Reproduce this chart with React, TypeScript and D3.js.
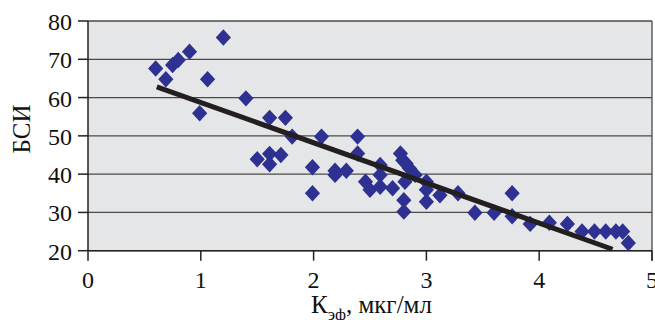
import React from "react";
import * as d3 from "d3";

const xValues = [
  0.60, 0.69, 0.75, 0.80, 0.90, 0.99, 1.06, 1.20, 1.40, 1.50,
  1.61, 1.61, 1.61, 1.71, 1.75, 1.81, 1.99, 1.99, 2.07, 2.19,
  2.19, 2.29, 2.39, 2.39, 2.46, 2.50, 2.59, 2.59, 2.59, 2.70,
  2.77, 2.79, 2.82, 2.85, 2.81, 2.90, 2.80, 2.80, 3.00, 3.00,
  3.00, 3.12, 3.28, 3.43, 3.60, 3.76, 3.76, 3.92, 4.09, 4.25,
  4.38, 4.49, 4.59, 4.68, 4.74, 4.79,
];
const yValues = [
  67.6, 64.8, 68.5, 69.8, 72.0, 55.9, 64.8, 75.7, 59.8, 43.9,
  45.3, 42.6, 54.7, 45.0, 54.7, 49.8, 41.8, 35.0, 49.8, 40.9,
  39.8, 40.9, 49.8, 45.4, 38.0, 35.9, 42.4, 39.8, 36.7, 36.3,
  45.4, 43.6, 42.8, 41.5, 38.0, 39.8, 33.2, 30.2, 38.0, 35.9,
  32.8, 34.5, 35.0, 29.9, 29.9, 35.0, 29.0, 27.0, 27.3, 27.0,
  25.0, 25.0, 25.0, 25.0, 25.0, 22.0,
];
const xTicks = [0, 1, 2, 3, 4, 5];
const yTicks = [20, 30, 40, 50, 60, 70, 80];
const trendRange = [0.61, 4.65];
const trendSlope = -10.5;
const trendIntercept = 69.2;
const yTitle = "БСИ";
const xTitleMain = "К";
const xTitleSub = "эф";
const xTitleRest = ", мкг/мл";

const W = 655;
const H = 320;
const left = 88;
const right = 652;
const top = 21;
const bottom = 250.7;

export default function App() {
  const x = d3.scaleLinear().domain([0, 5]).range([left, right]);
  const y = d3.scaleLinear().domain([20, 80]).range([bottom, top]);
  const font = "'Liberation Serif', 'Times New Roman', serif";
  const pts = xValues.map((v, i) => [v, yValues[i]] as [number, number]);
  const hw = 7.6;
  const hh = 8.2;
  const diamond = `M0,${-hh}L${hw},0L0,${hh}L${-hw},0Z`;
  const line = d3
    .line<number>()
    .x((d) => x(d))
    .y((d) => y(trendSlope * d + trendIntercept));

  return (
    <svg
      width={W}
      height={H}
      style={{ position: "absolute", left: 0, top: 0, background: "#fff" }}
      fontFamily={font}
    >
      <rect x={left} y={top} width={right - left} height={bottom - top} fill="#e5e6e8" />
      {yTicks.map((t) => (
        <line key={"g" + t} x1={left} x2={right} y1={y(t)} y2={y(t)} stroke="#4a4a4a" strokeWidth={1.3} />
      ))}
      <line x1={right} x2={right} y1={top} y2={bottom + 10} stroke="#4a4a4a" strokeWidth={1.3} />
      {yTicks.map((t) => (
        <g key={"y" + t}>
          <line x1={left - 10} x2={left} y1={y(t)} y2={y(t)} stroke="#222" strokeWidth={1.5} />
          <text x={left - 16} y={y(t) + 9} fontSize={24} textAnchor="end" fill="#111">
            {t}
          </text>
        </g>
      ))}
      {xTicks.map((t) => (
        <g key={"x" + t}>
          <line x1={x(t)} x2={x(t)} y1={bottom} y2={bottom + 10} stroke="#222" strokeWidth={1.5} />
          <text x={x(t)} y={288} fontSize={24} textAnchor="middle" fill="#111">
            {t}
          </text>
        </g>
      ))}
      <line x1={left} x2={left} y1={top} y2={bottom} stroke="#222" strokeWidth={1.5} />
      <line x1={left} x2={right} y1={bottom} y2={bottom} stroke="#222" strokeWidth={1.5} />
      {pts.map(([a, b], i) => (
        <path key={i} d={diamond} transform={`translate(${x(a)},${y(b)})`} fill="#2e3192" />
      ))}
      <path d={line(trendRange) || ""} fill="none" stroke="#231f20" strokeWidth={5} />
      <text
        transform={`translate(30,129) rotate(-90)`}
        fontSize={25}
        textAnchor="middle"
        fill="#111"
      >
        {yTitle}
      </text>
      <text x={311} y={313} fontSize={25} fill="#111">
        <tspan>{xTitleMain}</tspan>
        <tspan fontSize={17} dy={7}>{xTitleSub}</tspan>
        <tspan dy={-7}>{xTitleRest}</tspan>
      </text>
    </svg>
  );
}
